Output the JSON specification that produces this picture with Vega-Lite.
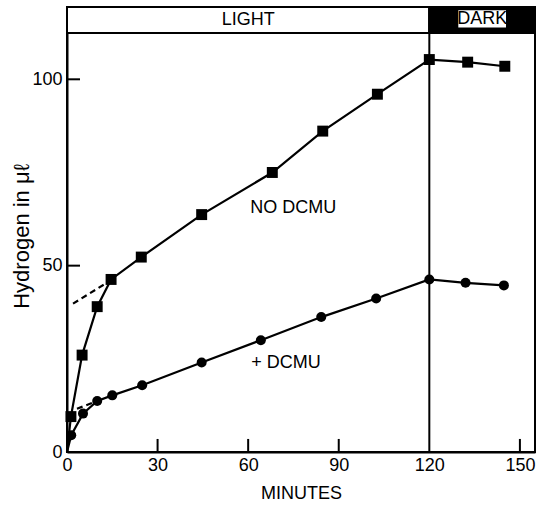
{
  "$schema": "https://vega.github.io/schema/vega-lite/v6.json",
  "autosize": {"type": "none"},
  "padding": {"left": 67, "top": 7, "right": 4, "bottom": 53},
  "width": 468,
  "height": 445,
  "background": "white",
  "config": {
    "view": {"stroke": "black", "strokeWidth": 2},
    "font": "Liberation Sans",
    "axis": {"grid": false, "ticks": false, "domainColor": "black", "domainWidth": 2, "labelColor": "black", "titleColor": "black", "labelFont": "Liberation Sans", "titleFont": "Liberation Sans", "labelFontSize": 18, "titleFontSize": 18, "titleFontWeight": "normal"}
  },
  "datasets": {
    "series": [
      {"series": "NO DCMU", "t": 0, "h": 0},
      {"series": "NO DCMU", "t": 1.3, "h": 9.5},
      {"series": "NO DCMU", "t": 5, "h": 26},
      {"series": "NO DCMU", "t": 10, "h": 39},
      {"series": "NO DCMU", "t": 14.6, "h": 46.3},
      {"series": "NO DCMU", "t": 24.6, "h": 52.3},
      {"series": "NO DCMU", "t": 44.6, "h": 63.7},
      {"series": "NO DCMU", "t": 68, "h": 75},
      {"series": "NO DCMU", "t": 84.7, "h": 86.1},
      {"series": "NO DCMU", "t": 102.8, "h": 96},
      {"series": "NO DCMU", "t": 120, "h": 105.3},
      {"series": "NO DCMU", "t": 132.7, "h": 104.6},
      {"series": "NO DCMU", "t": 145, "h": 103.5},
      {"series": "+ DCMU", "t": 0, "h": 0},
      {"series": "+ DCMU", "t": 1.4, "h": 4.5},
      {"series": "+ DCMU", "t": 5.3, "h": 10.3},
      {"series": "+ DCMU", "t": 10, "h": 13.7},
      {"series": "+ DCMU", "t": 15, "h": 15.2},
      {"series": "+ DCMU", "t": 24.9, "h": 17.9},
      {"series": "+ DCMU", "t": 44.6, "h": 24},
      {"series": "+ DCMU", "t": 64.2, "h": 30},
      {"series": "+ DCMU", "t": 84.2, "h": 36.2},
      {"series": "+ DCMU", "t": 102.4, "h": 41.2},
      {"series": "+ DCMU", "t": 120, "h": 46.3},
      {"series": "+ DCMU", "t": 132, "h": 45.4},
      {"series": "+ DCMU", "t": 144.7, "h": 44.7}
    ],
    "dashed": [
      {"series": "NO DCMU", "t": 2, "h": 39.8},
      {"series": "NO DCMU", "t": 15, "h": 46.3},
      {"series": "+ DCMU", "t": 3.3, "h": 11.6},
      {"series": "+ DCMU", "t": 10, "h": 13.7}
    ],
    "bands": [
      {"period": "LIGHT", "t0": 0, "t1": 120, "h0": 112.4, "h1": 119.4},
      {"period": "DARK", "t0": 120, "t1": 155, "h0": 112.4, "h1": 119.4}
    ],
    "darkbox": [
      {"t0": 129.6, "t1": 145.4, "h0": 113.9, "h1": 118.5}
    ],
    "divider": [
      {"t": 120, "h0": 0, "h1": 119.4}
    ],
    "xticks": [
      {"t": 30, "h0": 0, "h1": 3.5},
      {"t": 60, "h0": 0, "h1": 3.5},
      {"t": 90, "h0": 0, "h1": 3.5},
      {"t": 150, "h0": 0, "h1": 3.5}
    ],
    "yticks": [
      {"h": 50, "t0": 0, "t1": 4.3},
      {"h": 100, "t0": 0, "t1": 4.3}
    ],
    "labels": [
      {"label": "LIGHT", "t": 60, "h": 116.0},
      {"label": "DARK", "t": 137.5, "h": 116.2},
      {"label": "NO  DCMU", "t": 74.9, "h": 65.6},
      {"label": "+ DCMU", "t": 72.5, "h": 23.9}
    ]
  },
  "layer": [
    {
      "data": {"name": "bands"},
      "mark": {"type": "rect", "stroke": "black", "strokeWidth": 2},
      "encoding": {
        "x": {"field": "t0", "type": "quantitative", "scale": {"domain": [0, 155], "nice": false, "zero": false},
          "axis": {"values": [0, 30, 60, 90, 120, 150], "labelPadding": 4, "title": "MINUTES", "titleBaseline": "alphabetic", "titleY": 46, "labelFlush": false}},
        "x2": {"field": "t1"},
        "y": {"field": "h0", "type": "quantitative", "scale": {"domain": [0, 119.4], "nice": false},
          "axis": {"values": [0, 50, 100], "labelPadding": 5, "title": "Hydrogen in μℓ", "titleFontSize": 22, "titleBaseline": "alphabetic", "titleX": -39, "titleY": 229, "titleAngle": -90, "labelFlush": false}},
        "y2": {"field": "h1"},
        "fill": {"field": "period", "type": "nominal", "scale": {"domain": ["LIGHT", "DARK"], "range": ["white", "black"]}, "legend": null}
      }
    },
    {
      "data": {"name": "darkbox"},
      "mark": {"type": "rect", "fill": "white"},
      "encoding": {
        "x": {"field": "t0", "type": "quantitative"},
        "x2": {"field": "t1"},
        "y": {"field": "h0", "type": "quantitative"},
        "y2": {"field": "h1"}
      }
    },
    {
      "data": {"name": "divider"},
      "mark": {"type": "rule", "color": "black", "strokeWidth": 2},
      "encoding": {
        "x": {"field": "t", "type": "quantitative"},
        "y": {"field": "h0", "type": "quantitative"},
        "y2": {"field": "h1"}
      }
    },
    {
      "data": {"name": "xticks"},
      "mark": {"type": "rule", "color": "black", "strokeWidth": 2},
      "encoding": {
        "x": {"field": "t", "type": "quantitative"},
        "y": {"field": "h0", "type": "quantitative"},
        "y2": {"field": "h1"}
      }
    },
    {
      "data": {"name": "yticks"},
      "mark": {"type": "rule", "color": "black", "strokeWidth": 2},
      "encoding": {
        "y": {"field": "h", "type": "quantitative"},
        "x": {"field": "t0", "type": "quantitative"},
        "x2": {"field": "t1"}
      }
    },
    {
      "data": {"name": "series"},
      "mark": {"type": "line", "color": "black", "strokeWidth": 2.2},
      "encoding": {
        "x": {"field": "t", "type": "quantitative"},
        "y": {"field": "h", "type": "quantitative"},
        "detail": {"field": "series"},
        "order": {"field": "t"}
      }
    },
    {
      "data": {"name": "dashed"},
      "mark": {"type": "line", "color": "black", "strokeWidth": 2.2, "strokeDash": [6, 4]},
      "encoding": {
        "x": {"field": "t", "type": "quantitative"},
        "y": {"field": "h", "type": "quantitative"},
        "detail": {"field": "series"}
      }
    },
    {
      "data": {"name": "series"},
      "transform": [{"filter": "datum.t > 0"}],
      "mark": {"type": "point", "filled": true, "color": "black", "opacity": 1},
      "encoding": {
        "x": {"field": "t", "type": "quantitative"},
        "y": {"field": "h", "type": "quantitative"},
        "shape": {"field": "series", "type": "nominal", "scale": {"domain": ["NO DCMU", "+ DCMU"], "range": ["square", "circle"]}, "legend": null},
        "size": {"field": "series", "type": "nominal", "scale": {"domain": ["NO DCMU", "+ DCMU"], "range": [120, 100]}, "legend": null}
      }
    },
    {
      "data": {"name": "labels"},
      "mark": {"type": "text", "font": "Liberation Sans", "fontSize": 18, "color": "black", "baseline": "middle", "align": "center"},
      "encoding": {
        "x": {"field": "t", "type": "quantitative"},
        "y": {"field": "h", "type": "quantitative"},
        "text": {"field": "label"}
      }
    }
  ]
}
